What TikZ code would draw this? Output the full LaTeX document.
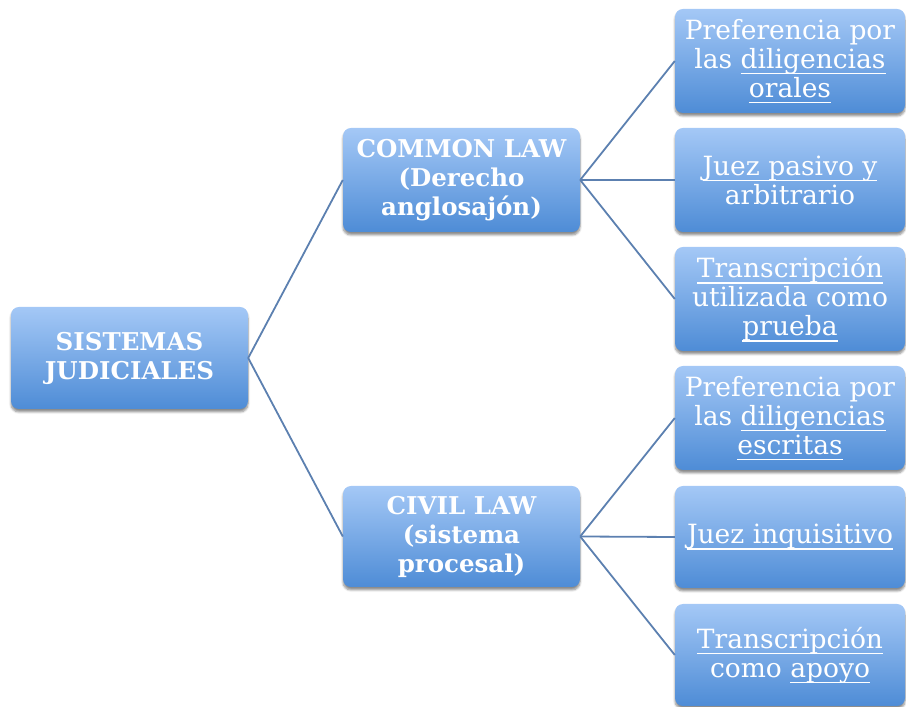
\documentclass[tikz,border=0pt]{standalone}
\usepackage{fontspec}
\setmainfont{DejaVu Serif}
\usetikzlibrary{shadows.blur}
\definecolor{boxtop}{RGB}{164,200,246}
\definecolor{boxbot}{RGB}{78,140,214}
\definecolor{linkcol}{RGB}{92,128,176}
\newcommand\ulx[1]{\setbox0\hbox{#1}\rlap{\rule[-6pt]{\wd0}{1.4pt}}\box0}
\tikzset{
  box/.style={rounded corners=8pt, top color=boxtop, bottom color=boxbot,
    draw=none, text=white, align=center, inner sep=0pt,
    blur shadow={shadow xshift=0pt, shadow yshift=-3pt, shadow blur steps=6, shadow opacity=45}},
  mainbox/.style={box, minimum width=237pt, font=\bfseries\fontsize{24.5}{29}\selectfont},
  leafbox/.style={box, minimum width=230pt, font=\fontsize{26.5}{29}\selectfont},
  link/.style={draw=linkcol, line width=1.8pt}
}
\begin{document}
\begin{tikzpicture}[x=1pt,y=1pt]
\useasboundingbox (0,0) rectangle (906,707);
\node[mainbox, minimum height=102pt] (root) at (129.5,349) {SISTEMAS\\JUDICIALES};
\node[mainbox, minimum height=104pt] (common) at (461.5,527) {COMMON LAW\\(Derecho\\anglosajón)};
\node[mainbox, minimum height=101pt] (civil) at (461.5,170.5) {CIVIL LAW\\(sistema\\procesal)};
\node[leafbox, minimum height=104pt] (r1) at (790,646) {Preferencia por\\las \ulx{diligencias}\\\ulx{orales}};
\node[leafbox, minimum height=104pt] (r2) at (790,527) {\ulx{Juez pasivo y}\\arbitrario};
\node[leafbox, minimum height=104pt] (r3) at (790,408) {\ulx{Transcripción}\\utilizada como\\\ulx{prueba}};
\node[leafbox, minimum height=104pt] (r4) at (790,289) {Preferencia por\\las \ulx{diligencias}\\\ulx{escritas}};
\node[leafbox, minimum height=102pt] (r5) at (790,170) {\ulx{Juez inquisitivo}};
\node[leafbox, minimum height=102pt] (r6) at (790,52) {\ulx{Transcripción}\\como \ulx{apoyo}};
\draw[link] (root.east) -- (common.west);
\draw[link] (root.east) -- (civil.west);
\draw[link] (common.east) -- (r1.west);
\draw[link] (common.east) -- (r2.west);
\draw[link] (common.east) -- (r3.west);
\draw[link] (civil.east) -- (r4.west);
\draw[link] (civil.east) -- (r5.west);
\draw[link] (civil.east) -- (r6.west);
\end{tikzpicture}
\end{document}
